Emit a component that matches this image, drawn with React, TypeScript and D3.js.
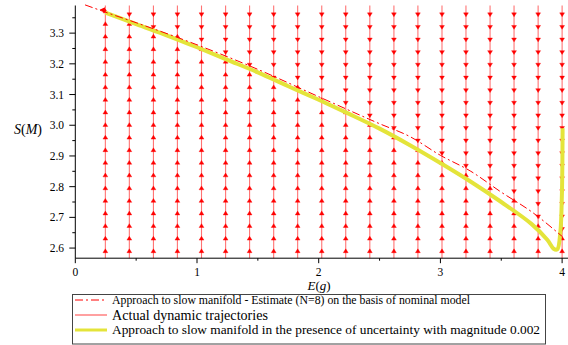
import React from "react";
import * as d3 from "d3";

// Field grid (columns in E, rows in S)
const fieldE = [0.247, 0.444, 0.642, 0.839, 1.037, 1.235, 1.432, 1.63, 1.827, 2.025, 2.222, 2.42, 2.618, 2.815, 3.013, 3.21, 3.408, 3.605, 3.803, 4.0];
const fieldS = [2.585, 2.626, 2.667, 2.708, 2.749, 2.79, 2.832, 2.873, 2.914, 2.955, 2.996, 3.037, 3.078, 3.119, 3.16, 3.202, 3.243, 3.284, 3.325, 3.366];

// Estimate (nominal model) – dash-dot
const estE = [0.08, 0.25, 0.5, 1.0, 1.5, 2.0, 2.5, 2.75, 3.0, 3.25, 3.5, 3.75, 4.0];
const estS = [3.392, 3.368, 3.334, 3.262, 3.182, 3.093, 3.005, 2.963, 2.902, 2.85, 2.782, 2.718, 2.638];

// Uncertain approach – yellow
const uncE = [0.247, 0.5, 0.75, 1.0, 1.25, 1.5, 1.75, 2.0, 2.25, 2.5, 2.75, 3.0, 3.25, 3.5, 3.75, 3.88, 3.93, 3.96, 3.985, 3.998, 4.004];
const uncS = [3.367, 3.329, 3.293, 3.254, 3.213, 3.172, 3.127, 3.083, 3.037, 2.989, 2.935, 2.877, 2.816, 2.75, 2.678, 2.626, 2.598, 2.596, 2.65, 2.77, 2.99];

const xTicks = [0, 1, 2, 3, 4];
const xMinor = [0.5, 1.5, 2.5, 3.5];
const yTicks = [2.6, 2.7, 2.8, 2.9, 3.0, 3.1, 3.2, 3.3];
const yMinor = [2.65, 2.75, 2.85, 2.95, 3.05, 3.15, 3.25, 3.35];

const legendLabels = [
  "Approach to slow manifold - Estimate (N=8) on the basis of nominal model",
  "Actual dynamic trajectories",
  "Approach to slow manifold in the presence of uncertainty with magnitude 0.002",
];

const RED = "#ff0000";
const TRAJ = "#ff5050";
const YELLOW = "#e4e43a";

export default function App() {
  const x = d3.scaleLinear().domain([0, 4.05]).range([75.3, 568.2]);
  const y = d3.scaleLinear().domain([2.567, 3.39]).range([258.2, 5.5]);

  const estPts: [number, number][] = estE.map((e, i) => [e, estS[i]]);
  const uncPts: [number, number][] = uncE.map((e, i) => [e, uncS[i]]);
  const line = d3
    .line<[number, number]>()
    .x((d) => x(d[0]))
    .y((d) => y(d[1]))
    .curve(d3.curveMonotoneX);
  const lineYellow = d3
    .line<[number, number]>()
    .x((d) => x(d[0]))
    .y((d) => y(d[1]))
    .curve(d3.curveCatmullRom.alpha(0.5));

  const estAt = (e: number) => {
    const i = d3.bisector((d: number) => d).left(estE, e);
    if (i <= 0) return estS[0];
    if (i >= estE.length) return estS[estS.length - 1];
    const t = (e - estE[i - 1]) / (estE[i] - estE[i - 1]);
    return estS[i - 1] + t * (estS[i] - estS[i - 1]);
  };

  const half = 3.8;
  const arrows: React.ReactNode[] = [];
  fieldE.forEach((e, ci) => {
    const cx = x(e);
    fieldS.forEach((s, ri) => {
      const cy = y(s);
      const down = s > estAt(e);
      const tip = down ? cy + half : cy - half;
      const base = down ? tip - 3.8 : tip + 3.8;
      arrows.push(
        <path
          key={`h${ci}-${ri}`}
          d={`M${cx},${tip}L${cx - 2.4},${base}L${cx + 2.4},${base}Z`}
          fill={RED}
          stroke={RED}
          strokeWidth={0.4}
        />
      );
    });
  });

  const font = "'Liberation Serif', 'Times New Roman', serif";

  return (
    <svg
      width={568}
      height={345}
      style={{ position: "absolute", left: 0, top: 0, background: "#fff" }}
      fontFamily={font}
    >
      {/* trajectories */}
      {fieldE.map((e, i) => (
        <line
          key={`t${i}`}
          x1={x(e)}
          x2={x(e)}
          y1={y(3.39)}
          y2={y(2.567)}
          stroke={TRAJ}
          strokeOpacity={0.8}
          strokeWidth={1.1}
        />
      ))}
      {arrows}
      {/* yellow curve */}
      <path d={lineYellow(uncPts) || ""} fill="none" stroke={YELLOW} strokeWidth={4} strokeLinejoin="round" />
      {/* dash-dot estimate */}
      <path d={line(estPts) || ""} fill="none" stroke={RED} strokeWidth={1} strokeDasharray="8,3,2,3" />
      {/* small arrowhead along estimate at top-left */}
      <path
        d={`M${x(0.2)},${y(3.376)}l6,-0.5l-2,4.5Z`}
        fill={RED}
        transform={`rotate(-20 ${x(0.2)} ${y(3.376)})`}
      />
      {/* axes */}
      <line x1={x(0)} x2={x(4.05)} y1={y(2.567)} y2={y(2.567)} stroke="#000" strokeWidth={1} />
      <line x1={x(0)} x2={x(0)} y1={y(2.567)} y2={y(3.39)} stroke="#000" strokeWidth={1} />
      {xTicks.map((t) => (
        <g key={`xt${t}`}>
          <line x1={x(t)} x2={x(t)} y1={y(2.567)} y2={y(2.567) + 5} stroke="#000" />
          <text x={x(t)} y={276} fontSize={11.5} textAnchor="middle">
            {t}
          </text>
        </g>
      ))}
      {xMinor.map((t) => (
        <line key={`xm${t}`} x1={x(t)} x2={x(t)} y1={y(2.567)} y2={y(2.567) + 2.5} stroke="#000" />
      ))}
      {yTicks.map((t) => (
        <g key={`yt${t}`}>
          <line x1={x(0) - 6} x2={x(0)} y1={y(t)} y2={y(t)} stroke="#000" />
          <text x={64} y={y(t) + 4} fontSize={11.5} textAnchor="end">
            {t.toFixed(1)}
          </text>
        </g>
      ))}
      {yMinor.map((t) => (
        <line key={`ym${t}`} x1={x(0) - 3} x2={x(0)} y1={y(t)} y2={y(t)} stroke="#000" />
      ))}
      {/* axis labels */}
      <text x={319} y={290} fontSize={13} textAnchor="middle">
        <tspan fontStyle="italic">E</tspan>
        <tspan>(</tspan>
        <tspan fontStyle="italic">g</tspan>
        <tspan>)</tspan>
      </text>
      <text x={28} y={134} fontSize={14} textAnchor="middle">
        <tspan fontStyle="italic">S</tspan>
        <tspan>(</tspan>
        <tspan fontStyle="italic">M</tspan>
        <tspan>)</tspan>
      </text>
      {/* legend */}
      <rect x={72.5} y={294.5} width={473} height={49.5} fill="#fff" stroke="#444" strokeWidth={1} />
      <line x1={75} x2={107} y1={300} y2={300} stroke={RED} strokeWidth={1} strokeDasharray="8,3,2,3" />
      <text x={112} y={304} fontSize={12} textLength={358} lengthAdjust="spacingAndGlyphs">
        {legendLabels[0]}
      </text>
      <line x1={75} x2={107} y1={315} y2={315} stroke={TRAJ} strokeOpacity={0.9} strokeWidth={1.2} />
      <text x={112} y={320} fontSize={14} textLength={156} lengthAdjust="spacingAndGlyphs">
        {legendLabels[1]}
      </text>
      <line x1={75} x2={107} y1={330} y2={330} stroke={YELLOW} strokeWidth={3} />
      <text x={112} y={334} fontSize={12.5} textLength={428} lengthAdjust="spacingAndGlyphs">
        {legendLabels[2]}
      </text>
    </svg>
  );
}
